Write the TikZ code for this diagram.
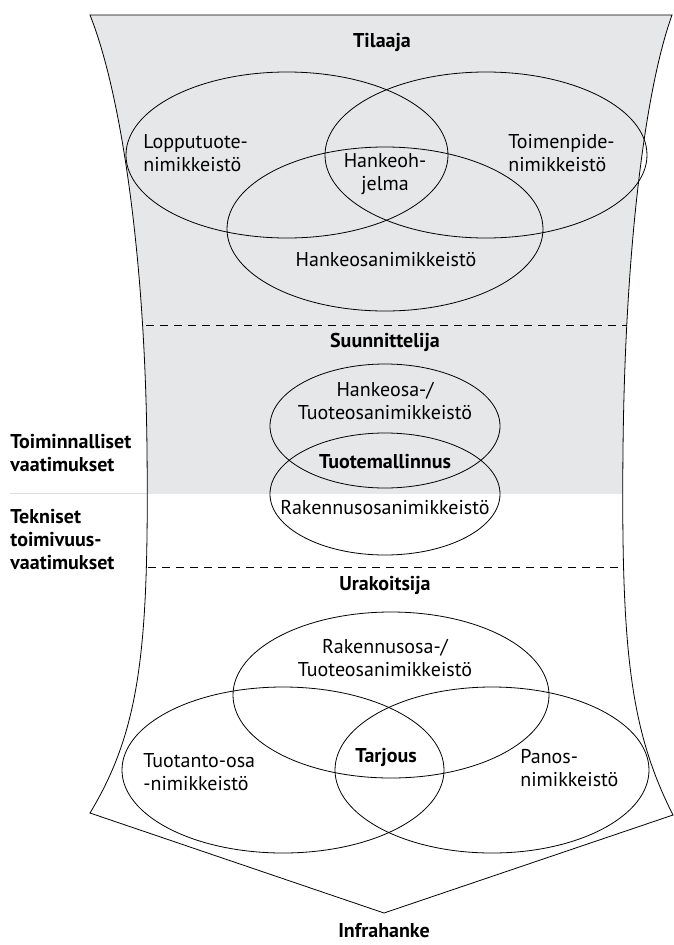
\documentclass[tikz,border=0pt]{standalone}
\usepackage{fontspec}
\setmainfont{PT Sans}
\usetikzlibrary{calc}
\definecolor{tilagray}{HTML}{E6E7E8}
\definecolor{rulegray}{HTML}{DCDDDE}

\begin{document}
\begin{tikzpicture}[x=1pt, y=-1pt, line width=.8pt,
  every node/.style={font=\fontsize{20}{23}\selectfont, align=center, inner sep=0pt},
  role/.style={font=\fontsize{20}{23}\selectfont\bfseries},
  side/.style={font=\fontsize{20}{23}\selectfont\bfseries, anchor=west, align=left},
  lft/.style={anchor=west, align=left},
  border/.style={dash pattern=on 8pt off 6pt}]
\useasboundingbox (0,0) rectangle (674,945);

% grey part of the funnel
\begin{scope}
\clip (0,0) rectangle (674,493);
\fill[tilagray] (90,15) -- (672,15) .. controls (645,90) and (625,250) .. (623,450) .. controls (621,650) and (630,730) .. (673,815) -- (384,913) -- (90,813) .. controls (140,730) and (149,650) .. (147,450) .. controls (145,250) and (120,90) .. (90,15) -- cycle;
\end{scope}
\draw[rulegray] (10,493) -- (147,493);
\draw (90,15) -- (672,15) .. controls (645,90) and (625,250) .. (623,450) .. controls (621,650) and (630,730) .. (673,815) -- (384,913) -- (90,813) .. controls (140,730) and (149,650) .. (147,450) .. controls (145,250) and (120,90) .. (90,15) -- cycle;
\draw[border] (146,325) -- (627,325);
\draw[border] (148,567) -- (623,567);

% Tilaaja
\node[role] (tilaaja) at (382,42) {Tilaaja};
\draw (287,155) ellipse [x radius=161, y radius=83];
\draw (486,155) ellipse [x radius=161, y radius=83];
\draw (385,229) ellipse [x radius=158, y radius=82];
\node[lft] (lopputuote) at (143,153) {Lopputuote-\\nimikkeistö};
\node[lft] (toimenpide) at (508,153) {Toimenpide-\\nimikkeistö};
\node (hankeohjelma) at (385,174) {Hankeoh-\\jelma};
\node (hankeosa) at (386,260) {Hankeosanimikkeistö};

% Suunnittelija
\node[role] (suunnittelija) at (385,342) {Suunnittelija};
\draw (385,426) ellipse [x radius=115, y radius=62];
\draw (385,494) ellipse [x radius=115, y radius=61];
\node (tuoteosa) at (385,401) {Hankeosa-/\\Tuoteosanimikkeistö};
\node[role] (tuotemallinnus) at (385,462) {Tuotemallinnus};
\node (rakennusosa) at (385,508) {Rakennusosanimikkeistö};

\node[side] (toiminnalliset) at (10,453) {Toiminnalliset\\vaatimukset};
\node[side] (tekniset) at (10,540) {Tekniset\\toimivuus-\\vaatimukset};

% Urakoitsija
\node[role] (urakoitsija) at (385,585) {Urakoitsija};
\draw (391,695) ellipse [x radius=158, y radius=83];
\draw (283,770) ellipse [x radius=161, y radius=83];
\draw (492,770) ellipse [x radius=157, y radius=83];
\node (rakennustuote) at (385,658) {Rakennusosa-/\\Tuoteosanimikkeistö};
\node[lft] (tuotanto) at (143,772) {Tuotanto-osa\\-nimikkeistö};
\node[role] (tarjous) at (386,757) {Tarjous};
\node[lft] (panos) at (520,768) {Panos-\\nimikkeistö};

\node[role] (infrahanke) at (384,931) {Infrahanke};
\end{tikzpicture}
\end{document}
